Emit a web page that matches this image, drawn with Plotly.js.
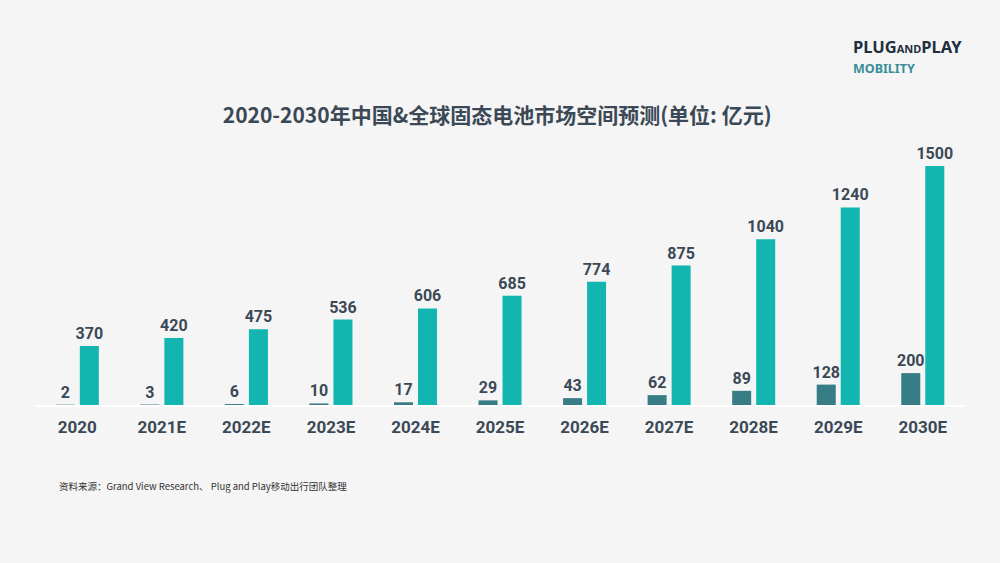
<!DOCTYPE html>
<html>
<head>
<meta charset="utf-8">
<script src="https://cdn.plot.ly/plotly-3.0.1.min.js"></script>
<style>
html,body{margin:0;padding:0;background:#f5f5f5;}
#chart{width:1000px;height:563px;}
</style>
</head>
<body>
<div id="chart"></div>
<script>
var years = ["2020","2021E","2022E","2023E","2024E","2025E","2026E","2027E","2028E","2029E","2030E"];
var chinaValues = [2,3,6,10,17,29,43,62,89,128,200];
var globalValues = [370,420,475,536,606,685,774,875,1040,1240,1500];
var chartTitle = "2020-2030年中国&全球固态电池市场空间预测(单位: 亿元)";
var sourceText = "资料来源：Grand View Research、 Plug and Play移动出行团队整理";

var textColor = "#3b4956";
var labelFont = {family:"Roboto, 'Noto Sans', sans-serif", size:16, color:textColor, weight:700};
var barW = 0.225;

var traces = [
  {
    type:"bar", name:"全球", x:years, y:globalValues,
    width:barW, offset:0.03,
    marker:{color:"#12b5b0"},
    text:globalValues.map(String), textposition:"outside", constraintext:"none",
    textfont:labelFont, cliponaxis:false, hoverinfo:"skip"
  },
  {
    type:"bar", name:"中国", x:years, y:chinaValues,
    width:barW, offset:-0.254,
    marker:{color:"#387c85"},
    text:chinaValues.map(String), textposition:"outside", constraintext:"none",
    textfont:labelFont, cliponaxis:false, hoverinfo:"skip"
  }
];

var layout = {
  width:1000, height:563,
  paper_bgcolor:"#f5f5f5", plot_bgcolor:"#f5f5f5",
  margin:{l:35, r:35, t:140, b:158},
  showlegend:false,
  barmode:"overlay",
  uniformtext:{mode:false},
  title:{
    text:chartTitle,
    font:{family:"'Noto Sans CJK SC', 'Noto Sans', sans-serif", size:21, color:textColor, weight:700},
    x:0.497, xref:"paper", xanchor:"center",
    y:1-116/563, yref:"container", yanchor:"middle"
  },
  xaxis:{
    type:"category", showgrid:false, zeroline:false,
    showline:true, linecolor:"#ffffff", linewidth:1.5,
    ticks:"", tickfont:{family:"Roboto, 'Noto Sans', sans-serif", size:17, color:textColor, weight:700},
    ticklabelstandoff:6, fixedrange:true
  },
  yaxis:{
    range:[0,1663], visible:false, showgrid:false, zeroline:false, fixedrange:true
  },
  annotations:[
    {
      text:sourceText, xref:"paper", yref:"paper",
      x:(57-35)/930, y:(405-486)/265, xanchor:"left", yanchor:"middle",
      showarrow:false,
      font:{family:"'Noto Sans CJK SC', 'Noto Sans', sans-serif", size:9.5, color:"#333333"}
    },
    {
      text:"PLUG<span style='font-size:11px'>AND</span>PLAY", xref:"paper", yref:"paper",
      x:(851-35)/930, y:(405-46)/265, xanchor:"left", yanchor:"middle",
      showarrow:false,
      font:{family:"'Noto Sans', sans-serif", size:16.5, color:"#1e2f3e", weight:700}
    },
    {
      text:"MOBILITY", xref:"paper", yref:"paper",
      x:(851-35)/930, y:(405-68)/265, xanchor:"left", yanchor:"middle",
      showarrow:false,
      font:{family:"'Noto Sans', sans-serif", size:12.5, color:"#3b8d98", weight:700}
    }
  ]
};

Plotly.newPlot("chart", traces, layout, {displayModeBar:false, staticPlot:true});
</script>
</body>
</html>
